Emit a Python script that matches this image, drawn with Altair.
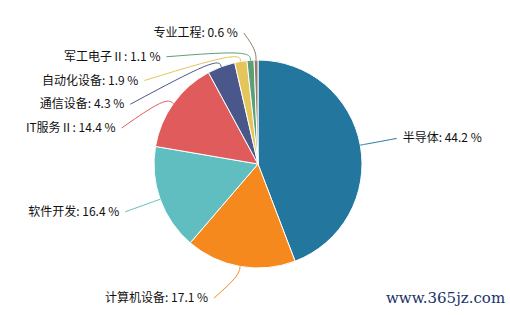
import math
import altair as alt
import pandas as pd

# ---- data ----
categories = ["半导体", "计算机设备", "软件开发", "IT服务Ⅱ", "通信设备", "自动化设备", "军工电子Ⅱ", "专业工程"]
shares = [44.2, 17.1, 16.4, 14.4, 4.3, 1.9, 1.1, 0.6]
colors = ["#23779f", "#f5891d", "#60bec0", "#e05c5c", "#4a578a", "#e3c55b", "#5b9f74", "#8f7d6e"]
watermark = ["www.365jz.com"]

# ---- layout ----
W, H = 510, 316
CX, CY, R = 258, 164, 104
R_LABEL = 141
MIN_Y, MAX_Y, GAP = 33, 298, 23.75

total = sum(shares)
rows = []
cum = 0.0
for i, (c, v) in enumerate(zip(categories, shares)):
    mid = (cum + v / 2) / total * 2 * math.pi
    cum += v
    s, co = math.sin(mid), math.cos(mid)
    rows.append(dict(
        idx=i, category=c, share=v,
        label=f"{c}: {v} %",
        side="right" if s >= 0 else "left",
        ex=CX + R * s, ey=CY - R * co,
        bx=CX + (R + 10) * s, by=CY - (R + 10) * co,
        ny=CY - R_LABEL * co,
    ))

# simple overlap-avoiding shift per side
for side in ("left", "right"):
    items = sorted([r for r in rows if r["side"] == side], key=lambda r: r["ny"])
    last = MIN_Y - GAP
    for r in items:
        r["ly"] = max(r["ny"], last + GAP)
        last = r["ly"]
    nxt = MAX_Y + GAP
    for r in reversed(items):
        r["ly"] = min(r["ly"], nxt - GAP)
        nxt = r["ly"]

for r in rows:
    sign = 1 if r["side"] == "right" else -1
    if r["ly"] < r["by"] - 8:
        # label above its elbow: short horizontal run
        r["lx"] = r["bx"] + sign * 12
    else:
        dy = r["ly"] - CY
        dx = math.sqrt(max(R_LABEL ** 2 - dy ** 2, 0))
        r["lx"] = CX + sign * dx
    r["tx"] = r["lx"] + sign * 6

df = pd.DataFrame(rows)

line_rows = []
for r in rows:
    for k, (x, y) in enumerate([(r["ex"], r["ey"]), (r["bx"], r["by"]), (r["lx"], r["ly"])]):
        line_rows.append(dict(category=r["category"], k=k, x=x, y=y))
lines_df = pd.DataFrame(line_rows)

color_scale = alt.Scale(domain=categories, range=colors)
xs = alt.Scale(domain=[0, W], nice=False, zero=False)
ys = alt.Scale(domain=[0, H], nice=False, zero=False, reverse=True)

pie = alt.Chart(df).mark_arc(outerRadius=R, stroke="white", strokeWidth=1).encode(
    theta=alt.Theta("share:Q", stack=True),
    color=alt.Color("category:N", scale=color_scale, legend=None),
    order=alt.Order("idx:Q"),
    x=alt.value(CX),
    y=alt.value(CY),
)

leaders = alt.Chart(lines_df).mark_line(interpolate="basis", strokeWidth=1).encode(
    x=alt.X("x:Q", scale=xs, axis=None),
    y=alt.Y("y:Q", scale=ys, axis=None),
    color=alt.Color("category:N", scale=color_scale, legend=None),
    detail="category:N",
    order="k:Q",
)

text_common = dict(fontSize=12, font="Noto Sans CJK SC", color="#111111", baseline="middle")
labels_left = alt.Chart(df).transform_filter(alt.datum.side == "left").mark_text(align="right", **text_common).encode(
    x=alt.X("tx:Q", scale=xs, axis=None),
    y=alt.Y("ly:Q", scale=ys, axis=None),
    text="label:N",
)
labels_right = alt.Chart(df).transform_filter(alt.datum.side == "right").mark_text(align="left", **text_common).encode(
    x=alt.X("tx:Q", scale=xs, axis=None),
    y=alt.Y("ly:Q", scale=ys, axis=None),
    text="label:N",
)

wm = alt.Chart(pd.DataFrame({"t": watermark})).mark_text(
    align="left", baseline="middle", fontSize=15, font="DejaVu Serif", color="#1a3268"
).encode(x=alt.value(386), y=alt.value(298), text="t:N")

chart = alt.layer(pie, leaders, labels_left, labels_right, wm).properties(
    width=W, height=H, padding=0, autosize=alt.AutoSizeParams(type="none")
).configure_view(stroke=None).resolve_scale(color="shared")

chart.save("out.html", embed_options={"renderer": "svg", "actions": False})
